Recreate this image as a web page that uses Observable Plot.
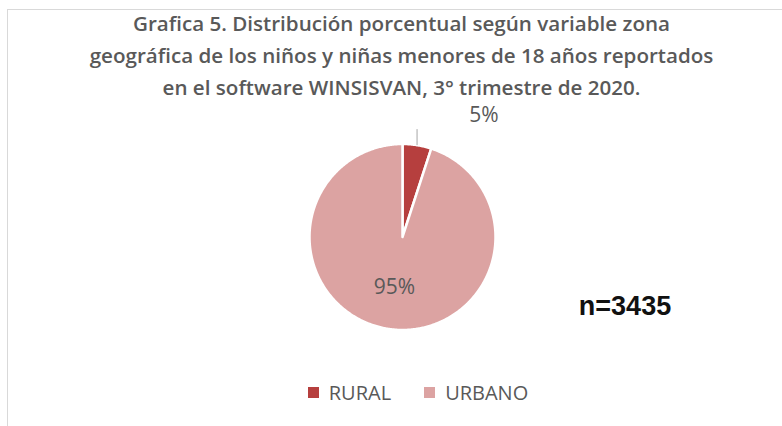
<!DOCTYPE html>
<html>
<head>
<meta charset="utf-8">
<script src="https://cdn.jsdelivr.net/npm/d3@7"></script>
<script src="https://cdn.jsdelivr.net/npm/@observablehq/plot@0.6"></script>
<style>
  html, body { margin: 0; padding: 0; background: #fff; }
  #page { position: relative; width: 782px; height: 426px; overflow: hidden; background: #fff; }
  #frame { position: absolute; left: 7px; top: 9px; width: 820px; height: 460px; border: 1px solid #d9d9d9; box-sizing: border-box; }
  #title { position: absolute; left: 0; top: 7px; width: 803px; text-align: center;
    font-family: "Open Sans", Lato, sans-serif; font-weight: 600; font-size: 20.6px; line-height: 32px; color: #595959; }
  #chart { position: absolute; left: 0; top: 100px; }
  #legend { position: absolute; left: 0; top: 376px; width: 836px; display: flex; justify-content: center; }
  #legend div, #legend span { font-family: "Open Sans", Lato, sans-serif !important; font-size: 20px !important; color: #595959 !important; }
  .lg-swatch { margin-right: 33px !important; }
  .lg-swatch:last-child { margin-right: 0 !important; }
  .lg-swatch svg { margin-right: 10px !important; }
</style>
</head>
<body>
<div id="page">
  <div id="frame"></div>
  <div id="title"></div>
  <div id="chart"></div>
  <div id="legend"></div>
</div>
<script>
// ---- data ----
const titleLines = [
  "Grafica 5. Distribución porcentual según variable zona",
  "geográfica de los niños y niñas menores de 18 años reportados",
  "en el software WINSISVAN, 3° trimestre de 2020."
];
const zonas = ["RURAL", "URBANO"];
const porcentajes = [5, 95];
const etiquetas = ["5%", "95%"];
const colores = ["#B63F3E", "#DCA3A2"];
const nTotal = "n=3435";

document.getElementById("title").innerHTML = titleLines.map(t => `<div>${t}</div>`).join("");

// ---- pie geometry via d3.pie ----
const rows = zonas.map((z, i) => ({zona: z, valor: porcentajes[i], etiqueta: etiquetas[i]}));
const arcs = d3.pie().sort(null).value(d => d.valor)(rows);
const pts = [];
for (const a of arcs) {
  pts.push({zona: a.data.zona, x: 0, y: 0});
  const n = Math.max(2, Math.ceil((a.endAngle - a.startAngle) / 0.01));
  for (let k = 0; k <= n; k++) {
    const t = a.startAngle + (a.endAngle - a.startAngle) * k / n;
    pts.push({zona: a.data.zona, x: Math.sin(t), y: Math.cos(t)});
  }
}
const mid = a => (a.startAngle + a.endAngle) / 2;
const small = arcs[0], big = arcs[1];
const leader = [{
  x1: Math.sin(mid(small)) * 1.0, y1: Math.cos(mid(small)) * 1.0,
  x2: Math.sin(mid(small)) * 1.0, y2: 1.16
}];
const labels = [
  {x: Math.sin(mid(small)) + 0.72, y: 1.31, text: small.data.etiqueta},
  {x: Math.sin(mid(big)) * 0.55, y: Math.cos(mid(big)) * 0.55, text: big.data.etiqueta}
];

const R = 93, cx = 402, cy = 136.5, W = 782, H = 250;
const plot = Plot.plot({
  width: W, height: H,
  marginLeft: cx - R, marginRight: W - (cx + R),
  marginTop: cy - R, marginBottom: H - (cy + R),
  x: {domain: [-1, 1], axis: null},
  y: {domain: [-1, 1], axis: null},
  color: {domain: zonas, range: colores},
  style: {background: "transparent", overflow: "visible"},
  marks: [
    Plot.line(pts, {x: "x", y: "y", z: "zona", fill: "zona", stroke: "white", strokeWidth: 2.5, curve: "linear-closed"}),
    Plot.link(leader, {x1: "x1", y1: "y1", x2: "x2", y2: "y2", stroke: "#a6a6a6", strokeWidth: 1}),
    Plot.text(labels, {x: "x", y: "y", text: "text", fontSize: 21, fill: "#595959", fontFamily: "'Open Sans', Lato, sans-serif"}),
    Plot.text([nTotal], {x: [(624.5 - cx) / R], y: [-(206 - cy) / R], text: d => d, fontSize: 27, fontWeight: 700, fill: "#111", fontFamily: "'Liberation Sans', Arial, sans-serif"})
  ]
});
document.getElementById("chart").appendChild(plot);

const leg = Plot.legend({
  color: {type: "ordinal", domain: zonas, range: colores},
  legend: "swatches",
  swatchSize: 11,
  className: "lg"
});
document.getElementById("legend").appendChild(leg);
</script>
</body>
</html>
